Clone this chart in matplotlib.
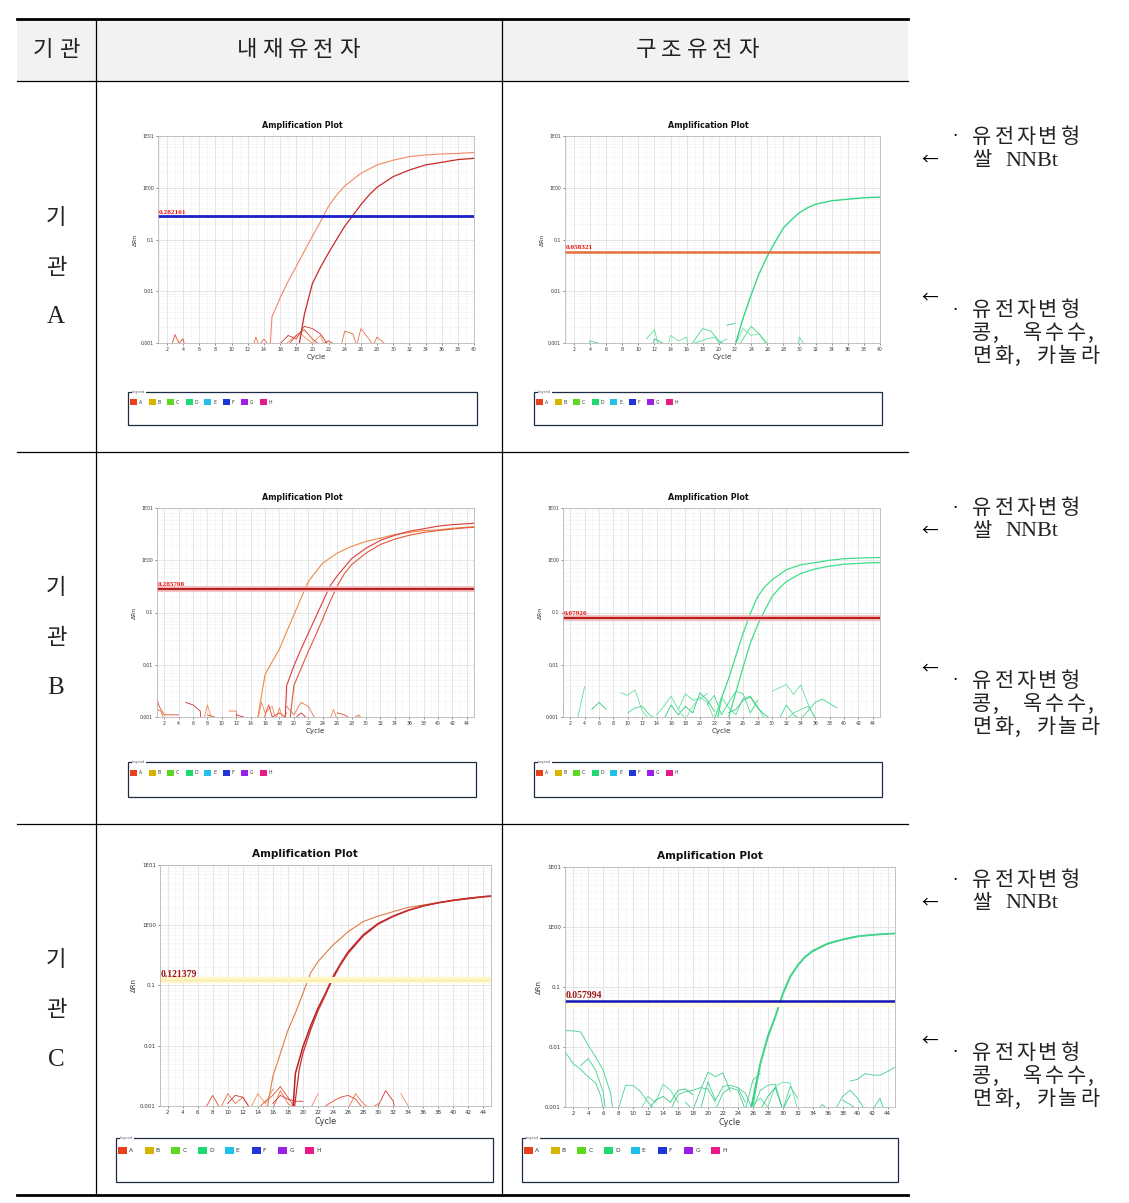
import numpy as np
import matplotlib.pyplot as plt
from matplotlib.patches import Rectangle
from matplotlib.ticker import MultipleLocator, NullFormatter, FixedLocator

W, H = 1129, 1203

# ---------------- table text ----------------
col_headers = ['기관', '내재유전자', '구조유전자']
org_names = ['A', 'B', 'C']
note_top = ['유전자변형', '쌀', 'NNBt']
note_bottom = ['유전자변형', '콩,', '옥수수,', '면화,', '카놀라']

legend_names = ['A', 'B', 'C', 'D', 'E', 'F', 'G', 'H']
legend_colors = ['#e8401c', '#d8b400', '#5ed81e', '#20d870', '#20c0e8', '#2035d8', '#9a20e8', '#e81a8a']

y_tick_vals = [0.001, 0.01, 0.1, 1, 10]
y_tick_text = ['0.001', '0.01', '0.1', '1E00', '1E01']

thresholds = [0.282161, 0.058321, 0.285708, 0.07926, 0.121379, 0.057994]
threshold_text = ['0.282161', '0.058321', '0.285708', '0.07926', '0.121379', '0.057994']

# ---------------- 기관 A ----------------
a_ref_x1 = [14.8, 15, 16, 17, 18, 19, 20, 21, 22, 23, 24, 26, 28, 30, 32, 34, 36, 38, 40]
a_ref_y1 = [0.001, 0.0032, 0.0074, 0.0155, 0.030, 0.059, 0.115, 0.22, 0.44, 0.72, 1.08, 1.9, 2.76, 3.4, 4.0, 4.3, 4.5, 4.6, 4.8]
a_ref_x2 = [18.4, 19, 20, 21, 22, 23, 24, 25, 26, 27, 28, 30, 32, 34, 36, 38, 40]
a_ref_y2 = [0.001, 0.0035, 0.0140, 0.029, 0.055, 0.10, 0.18, 0.29, 0.47, 0.72, 1.02, 1.64, 2.2, 2.76, 3.1, 3.5, 3.7]
a_ref_noise_x = [[2.5, 3, 3.5, 4, 4.3], [12.6, 13, 13.4, 14, 14.6], [15.5, 17, 18, 19, 20, 21, 22],
                 [16.5, 17.5, 18.5, 19, 20, 21, 21.5], [17, 18, 19, 20, 21, 22, 23],
                 [23.5, 24, 25, 25.5, 26, 27, 27.5, 28, 29.2]]
a_ref_noise_y = [[0.0008, 0.00145, 0.001, 0.0012, 0.0008], [0.0008, 0.0013, 0.0009, 0.0012, 0.0009],
                 [0.0008, 0.0014, 0.0012, 0.0021, 0.0019, 0.0015, 0.0009],
                 [0.0009, 0.0012, 0.0016, 0.0013, 0.0010, 0.0014, 0.0009],
                 [0.0009, 0.0014, 0.0018, 0.0012, 0.0009, 0.0011, 0.0009],
                 [0.0008, 0.0017, 0.0015, 0.0009, 0.0019, 0.0012, 0.0009, 0.0013, 0.0009]]

a_str_x = [22.1, 23, 24, 25, 26, 27, 28, 29, 30, 31, 32, 34, 36, 38, 40]
a_str_y = [0.001, 0.003, 0.0085, 0.022, 0.047, 0.091, 0.166, 0.24, 0.33, 0.41, 0.48, 0.56, 0.60, 0.64, 0.66]
a_str_noise_x = [[3.8, 4, 5], [11, 12, 12.5], [11.8, 12, 13, 13.5], [13.7, 14, 15, 16, 16.2],
                 [16.5, 18, 19, 20, 21], [17, 18.5, 19.5, 20, 21], [21, 22],
                 [22, 23, 24, 25, 26], [22.5, 24, 25, 26], [29.8, 30, 30.5], [31, 32]]
a_str_noise_y = [[0.0009, 0.0011, 0.001], [0.0012, 0.0018, 0.0009], [0.0009, 0.0012, 0.001, 0.0009],
                 [0.0009, 0.0014, 0.0011, 0.0013, 0.0009], [0.0009, 0.0019, 0.0017, 0.0011, 0.0009],
                 [0.001, 0.0012, 0.0013, 0.0010, 0.0012], [0.0022, 0.0024],
                 [0.0009, 0.0019, 0.0014, 0.0015, 0.001], [0.0009, 0.0021, 0.0015, 0.0009],
                 [0.0009, 0.0013, 0.001], [0.001, 0.001]]

# ---------------- 기관 B ----------------
b_ref_x1 = [15, 16, 17, 18, 19, 20, 21, 22, 23, 24, 26, 28, 30, 32, 34, 36, 38, 40, 42, 44, 45]
b_ref_y1 = [0.001, 0.0065, 0.0115, 0.02, 0.043, 0.09, 0.19, 0.39, 0.59, 0.88, 1.37, 1.84, 2.29, 2.65, 3.1, 3.4, 3.7, 3.8, 4.1, 4.3, 4.4]
b_ref_x2 = [18.8, 19, 20, 21, 22, 23, 24, 25, 26, 28, 30, 32, 34, 36, 38, 40, 42, 44, 45]
b_ref_y2 = [0.001, 0.004, 0.0095, 0.02, 0.04, 0.08, 0.16, 0.32, 0.5, 1.07, 1.7, 2.4, 3.0, 3.6, 4.0, 4.5, 4.8, 5.0, 5.1]
b_ref_x3 = [19.5, 20, 21, 22, 23, 24, 25, 26, 27, 28, 30, 32, 34, 36, 38, 40, 42, 44, 45]
b_ref_y3 = [0.001, 0.004, 0.0085, 0.018, 0.036, 0.075, 0.16, 0.32, 0.55, 0.82, 1.37, 2.0, 2.54, 3.0, 3.4, 3.7, 3.95, 4.2, 4.25]
b_ref_noise_x = [[1, 1.3, 2, 4], [1, 1.5, 2], [5, 6, 7, 7.1], [7.5, 8, 8.6], [8, 9], [11, 12, 12.1], [12, 13],
                 [15, 15.5, 16, 17, 17.5, 18, 18.5, 19], [15.8, 16.5, 17, 18, 19.2],
                 [19, 20, 21, 22, 23], [20, 21, 22], [25, 25.5, 26], [26, 27, 28, 29], [28, 29, 29.5]]
b_ref_noise_y = [[0.0022, 0.0016, 0.0011, 0.0011], [0.0014, 0.0013, 0.0009], [0.0019, 0.0017, 0.0013, 0.0009],
                 [0.0009, 0.0017, 0.0009], [0.0011, 0.001], [0.0013, 0.0013, 0.0009], [0.0011, 0.001],
                 [0.0009, 0.0019, 0.0012, 0.0016, 0.0009, 0.0015, 0.0009, 0.0012],
                 [0.0009, 0.0017, 0.001, 0.0012, 0.0009],
                 [0.0016, 0.0011, 0.0019, 0.0016, 0.0009], [0.0009, 0.0012, 0.0009],
                 [0.0009, 0.0014, 0.0009], [0.0012, 0.0011, 0.0009, 0.001], [0.0009, 0.0011, 0.0009]]

b_str_x1 = [22.5, 23, 24, 25, 26, 27, 28, 29, 30, 32, 34, 36, 38, 40, 42, 44, 45]
b_str_y1 = [0.001, 0.0023, 0.0055, 0.015, 0.04, 0.095, 0.2, 0.31, 0.42, 0.66, 0.82, 0.9, 1.0, 1.07, 1.1, 1.12, 1.13]
b_str_x2 = [24, 25, 26, 27, 28, 29, 30, 31, 32, 34, 36, 38, 40, 42, 44, 45]
b_str_y2 = [0.001, 0.003, 0.009, 0.026, 0.057, 0.11, 0.2, 0.29, 0.39, 0.56, 0.68, 0.77, 0.84, 0.87, 0.9, 0.9]
b_str_noise_x = [[1, 1.05], [3, 4], [5, 6, 7], [9, 10, 11, 12, 13], [10, 11, 12, 13, 14],
                 [14, 15, 16, 17, 18, 19, 20, 21], [15, 16, 17, 18, 19, 20, 21, 22],
                 [17, 18, 19, 20, 21, 22, 23], [21, 22, 23, 24, 25, 26, 27, 28],
                 [22, 23, 24, 25, 26, 27, 28, 29], [24, 25, 26, 27, 28, 29, 30],
                 [30, 32, 33, 34, 35, 36], [31, 32, 33, 34, 36, 37, 39], [32, 33, 35, 36]]
b_str_noise_y = [[0.0017, 0.0009], [0.0009, 0.0038], [0.0014, 0.0019, 0.0014],
                 [0.0029, 0.0026, 0.0033, 0.0013, 0.0009], [0.0012, 0.0015, 0.0016, 0.0011, 0.0009],
                 [0.0011, 0.0016, 0.0025, 0.0014, 0.0028, 0.0021, 0.0022, 0.0028],
                 [0.0009, 0.0017, 0.0011, 0.0016, 0.0012, 0.0029, 0.0021, 0.0013],
                 [0.0014, 0.0009, 0.0016, 0.0024, 0.0019, 0.0009, 0.0021],
                 [0.0017, 0.0026, 0.0011, 0.0019, 0.0031, 0.0028, 0.0012, 0.0021],
                 [0.0009, 0.0024, 0.0015, 0.0011, 0.0023, 0.0025, 0.0016, 0.0009],
                 [0.0012, 0.0014, 0.0021, 0.0024, 0.0015, 0.0011, 0.0009],
                 [0.0031, 0.0042, 0.0027, 0.0041, 0.0018, 0.0009],
                 [0.0009, 0.0017, 0.0011, 0.0009, 0.0019, 0.0022, 0.0015],
                 [0.0009, 0.0012, 0.0016, 0.001]]

# ---------------- 기관 C ----------------
c_ref_x1 = [15.3, 16, 17, 18, 19, 20, 21, 22, 24, 26, 28, 30, 32, 34, 36, 38, 40, 42, 44, 45]
c_ref_y1 = [0.001, 0.0031, 0.0074, 0.018, 0.035, 0.074, 0.16, 0.25, 0.47, 0.78, 1.15, 1.42, 1.68, 1.98, 2.17, 2.37, 2.56, 2.73, 2.95, 3.0]
c_ref_x2 = [18.7, 19, 20, 21, 22, 23, 24, 25, 26, 28, 30, 32, 34, 36, 38, 40, 42, 44, 45]
c_ref_y2 = [0.001, 0.0035, 0.0096, 0.021, 0.042, 0.074, 0.14, 0.23, 0.36, 0.69, 1.07, 1.42, 1.78, 2.1, 2.37, 2.6, 2.8, 2.98, 3.05]
c_ref_x3 = [18.9, 19.5, 20, 21, 22, 23, 24, 25, 26, 28, 30, 32, 34, 36, 38, 40, 42, 44, 45]
c_ref_y3 = [0.001, 0.004, 0.0075, 0.018, 0.038, 0.07, 0.13, 0.22, 0.34, 0.66, 1.04, 1.4, 1.76, 2.08, 2.35, 2.6, 2.8, 2.98, 3.05]
c_ref_noise_x = [[7, 8, 9], [9, 10, 11, 12, 13], [10, 11, 12, 13], [13, 14, 15, 16],
                 [14, 15, 16, 17, 18, 19], [15, 16, 17, 18, 19], [16, 17, 18, 19, 20], [21, 22],
                 [23, 24, 25, 26, 27, 28], [26, 27, 28, 29, 30], [29, 30, 31, 32, 32.2], [33, 34]]
c_ref_noise_y = [[0.0009, 0.0015, 0.0009], [0.0009, 0.0016, 0.0011, 0.0014, 0.0009],
                 [0.0011, 0.0015, 0.0014, 0.0009], [0.0009, 0.0016, 0.0011, 0.0019],
                 [0.0009, 0.0012, 0.0015, 0.0021, 0.0014, 0.0009], [0.0010, 0.0009, 0.0018, 0.0011, 0.0009],
                 [0.0011, 0.0015, 0.0013, 0.0012, 0.0012], [0.0009, 0.0016],
                 [0.001, 0.0012, 0.0014, 0.0015, 0.0013, 0.0009], [0.0009, 0.0016, 0.0011, 0.0009, 0.0011],
                 [0.0009, 0.001, 0.0018, 0.0012, 0.0009], [0.0016, 0.001]]

c_str_x1 = [25.8, 27, 28, 29, 30, 31, 32, 33, 34, 36, 38, 40, 42, 44, 45]
c_str_y1 = [0.001, 0.0053, 0.015, 0.032, 0.077, 0.15, 0.23, 0.32, 0.40, 0.53, 0.62, 0.70, 0.74, 0.77, 0.78]
c_str_x2 = [26, 27, 28, 29, 30, 31, 32, 33, 34, 36, 38, 40, 42, 44, 45]
c_str_y2 = [0.001, 0.005, 0.014, 0.031, 0.074, 0.145, 0.225, 0.315, 0.39, 0.52, 0.61, 0.69, 0.74, 0.77, 0.78]
c_str_noise_x = [[0.9, 2, 3, 4, 5, 6, 7, 7.3], [0.9, 2, 3, 4, 5, 5.7, 6], [3, 4, 5, 6, 6.3],
                 [39, 40, 41, 42, 43, 44, 45],
                 [8, 9, 10, 11, 12, 13], [11, 12, 13, 14, 15, 16], [12, 13, 14, 15, 16, 17, 18],
                 [15, 16, 17, 18, 19, 20, 21], [17, 18, 19, 20, 21, 22, 23], [19, 20, 21, 22, 23, 24, 25],
                 [21, 22, 23, 24, 25, 26, 27], [24, 25, 26, 27, 28, 29, 30, 31, 32],
                 [26, 27, 28, 29, 30, 31, 32], [27, 28, 29, 30, 31], [35, 35.3, 36],
                 [37, 38, 39, 40, 41], [38, 39, 40], [42, 43, 43.5]]
c_str_noise_y = [[0.0186, 0.0186, 0.0178, 0.0107, 0.0068, 0.0041, 0.0017, 0.0009],
                 [0.0083, 0.0053, 0.0042, 0.0032, 0.0025, 0.0015, 0.0009],
                 [0.0049, 0.0064, 0.0041, 0.0018, 0.0009],
                 [0.0027, 0.0029, 0.0036, 0.0034, 0.0034, 0.0039, 0.0046],
                 [0.0009, 0.0023, 0.0023, 0.0018, 0.0012, 0.0009], [0.0009, 0.0015, 0.0012, 0.0024, 0.0019, 0.0012],
                 [0.0009, 0.0013, 0.0015, 0.0012, 0.0019, 0.0020, 0.0016],
                 [0.0009, 0.0016, 0.0018, 0.0019, 0.0021, 0.0020, 0.0012],
                 [0.0012, 0.0009, 0.0019, 0.0038, 0.0032, 0.0037, 0.0018],
                 [0.0009, 0.0026, 0.0013, 0.0022, 0.0023, 0.0021, 0.0012],
                 [0.0009, 0.0017, 0.0021, 0.0019, 0.0009, 0.0028, 0.0036],
                 [0.0021, 0.0017, 0.0009, 0.0019, 0.0023, 0.0024, 0.0009, 0.0022, 0.0014],
                 [0.0011, 0.0014, 0.0010, 0.0022, 0.0026, 0.0025, 0.0009],
                 [0.0009, 0.0015, 0.0021, 0.0009, 0.0016], [0.001, 0.0011, 0.0009],
                 [0.0009, 0.0015, 0.0019, 0.0014, 0.0009], [0.0013, 0.0011, 0.0009], [0.0009, 0.0014, 0.0009]]

KR = ['Noto Sans CJK KR', 'DejaVu Sans']
SERIF_KR = ['Liberation Serif', 'Noto Sans CJK KR']
plt.rcParams['font.family'] = ['DejaVu Sans']

fig = plt.figure(figsize=(W / 100, H / 100), dpi=100)

# overlay in pixel coordinates for the table
ax0 = fig.add_axes([0, 0, 1, 1])
ax0.set_xlim(0, W)
ax0.set_ylim(H, 0)
ax0.axis('off')


def px_axes(x0, y0, x1, y1):
    return fig.add_axes([x0 / W, 1 - y1 / H, (x1 - x0) / W, (y1 - y0) / H])


def spaced(xc0, y, s, pitch, fs, color='#222222'):
    # one character at a time, like the letter-spaced text of the original
    x = xc0 - pitch
    for ch in s:
        if ch == ',':
            ax0.text(x + 0.52 * pitch, y, ch, family=KR, fontsize=fs, ha='left', va='center', color=color)
            continue
        x += pitch
        ax0.text(x, y, ch, family=KR, fontsize=fs, ha='center', va='center', color=color)


# table frame
ax0.add_patch(Rectangle((17, 19), 891, 62, fc='#f2f2f2', ec='none'))
ax0.plot([17, 908], [19, 19], color='black', lw=2.0)
ax0.plot([17, 908], [1195, 1195], color='black', lw=2.0)
for yy in [81, 452, 824]:
    ax0.plot([17, 908], [yy, yy], color='black', lw=0.9)
for xx in [96, 502]:
    ax0.plot([xx, xx], [19, 1195], color='black', lw=0.9)

for xc, t, pitch in zip([56, 298, 697], col_headers, [26, 25.5, 25.5]):
    spaced(xc - (len(t) - 1) * pitch / 2, 50, t, pitch, 16)

row_offsets = [0, 371, 743]
for r, name in enumerate(org_names):
    mid = 267 + row_offsets[r]
    ax0.text(56, mid - 50, '기', family=KR, fontsize=16, ha='center', va='center', color='#222222')
    ax0.text(56, mid, '관', family=KR, fontsize=16, ha='center', va='center', color='#222222')
    ax0.text(56, mid + 50, name, family=SERIF_KR, fontsize=18, ha='center', va='center', color='#222222')

    off = row_offsets[r]
    # notes on the right
    ax0.text(930, 160 + off, '←', family=KR, fontsize=12, ha='center', va='center')
    ax0.text(955, 137 + off, '·', family=KR, fontsize=12, ha='center', va='center')
    spaced(982, 137 + off, note_top[0], 22, 15)
    spaced(982, 160 + off, note_top[1], 22, 15)
    ax0.text(1005, 161 + off, note_top[2], family='Liberation Serif', fontsize=16, va='center', color='#222222')

    ax0.text(930, 298 + off, '←', family=KR, fontsize=12, ha='center', va='center')
    ax0.text(955, 310 + off, '·', family=KR, fontsize=12, ha='center', va='center')
    spaced(982, 310 + off, note_bottom[0], 22, 15)
    spaced(982, 333 + off, note_bottom[1], 22, 15)
    spaced(1033, 333 + off, note_bottom[2], 22, 15)
    spaced(982, 356 + off, note_bottom[3], 22, 15)
    spaced(1046, 356 + off, note_bottom[4], 22, 15)


def draw_legend(x0, y0, x1, y1, sq_x, sq_y, step, sw, sh, fs):
    ax0.add_patch(Rectangle((x0, y0), x1 - x0, y1 - y0, fill=False, ec='#1c2c44', lw=0.9))
    ax0.text(x0 + 4, y0, 'Legend', fontsize=2.6, va='center', color='#666666',
             bbox=dict(fc='white', ec='none', pad=0.3))
    for i, (n, c) in enumerate(zip(legend_names, legend_colors)):
        x = sq_x + i * step
        ax0.add_patch(Rectangle((x, sq_y - sh / 2), sw, sh, fc=c, ec='none'))
        ax0.text(x + sw + 2, sq_y, n, fontsize=fs, va='center', color='#333333')


def amp_plot(rect, xlim, title_xy, title_fs, tick_fs, big, curves, noise_x, noise_y, noise_colors,
             thr, thr_label, thr_kind):
    ax = px_axes(*rect)
    ax.set_yscale('log')
    ax.set_ylim(0.001, 10)
    ax.set_xlim(*xlim)
    ax.set_xticks(range(2, int(xlim[1]) + 1, 2))
    ax.xaxis.set_minor_locator(MultipleLocator(1))
    ax.yaxis.set_major_locator(FixedLocator(y_tick_vals))
    ax.set_yticklabels(y_tick_text)
    ax.yaxis.set_minor_formatter(NullFormatter())
    ax.grid(which='major', color='#dadada', lw=0.5)
    ax.grid(which='minor', color='#ececec', lw=0.4, ls=(0, (2, 1)))
    ax.set_axisbelow(True)
    ax.tick_params(which='major', length=1.5, width=0.4, pad=1.5, labelsize=tick_fs, colors='#333333')
    ax.tick_params(which='minor', length=0)
    for s in ax.spines.values():
        s.set_color('#b8b8b8')
        s.set_linewidth(0.6)
    ax.set_xlabel('Cycle', fontsize=tick_fs + 1.8, labelpad=1.5, color='#333333')
    ax.set_ylabel('ΔRn', fontsize=tick_fs + 1, labelpad=2, color='#333333')

    for i, (nx, ny) in enumerate(zip(noise_x, noise_y)):
        ax.plot(nx, ny, color=noise_colors[i % len(noise_colors)], lw=0.6)
    for cx, cy, col, lw in curves:
        ax.plot(cx, cy, color=col, lw=lw)

    if thr_kind == 'blue':
        ax.axhline(thr, color='#1a22c8', lw=2.0)
    elif thr_kind == 'orange':
        ax.axhline(thr, color='#e4703c', lw=1.8)
    elif thr_kind == 'darkred':
        ax.axhline(thr, color='#f2b4b4', lw=4.0)
        ax.axhline(thr, color='#b41c1c', lw=1.4)
    elif thr_kind == 'yellow':
        ax.axhline(thr, color='#fff6c4', lw=4.5)
        ax.axhline(thr, color='#f6ecb0', lw=0.8)
    elif thr_kind == 'navy':
        ax.axhline(thr * 0.86, color='#fffbe0', lw=3.0)
        ax.axhline(thr, color='#1616b8', lw=1.8)

    lab_col = '#a01212' if big else '#ee1111'
    ax.text(xlim[0] + 0.1, thr * 1.06, thr_label, color=lab_col, fontsize=7 if big else 5.2,
            family='Liberation Serif', fontweight='bold', va='bottom', ha='left')
    ax0.text(title_xy[0], title_xy[1], 'Amplification Plot', fontsize=title_fs, fontweight='bold',
             ha='center', va='center', color='#111111')
    return ax


red_noise = ['#e04a2a', '#e8704a', '#d23030', '#f08858']
green_noise = ['#3ed88a', '#58e098', '#2ec87a', '#6ce2a2']
c_green_noise = ['#3ed08c', '#3ed08c', '#3ed08c', '#3ed08c', '#48d494', '#5edc9e', '#30c880']

amp_plot((158, 136, 474, 343), (0.9, 40), (302, 126), 5.8, 3.3, False,
         [(a_ref_x1, a_ref_y1, '#f08a66', 0.8), (a_ref_x2, a_ref_y2, '#c82a2a', 0.9)],
         a_ref_noise_x, a_ref_noise_y, red_noise, thresholds[0], threshold_text[0], 'blue')
amp_plot((565, 136, 880, 343), (0.9, 40), (708, 126), 5.8, 3.3, False,
         [(a_str_x, a_str_y, '#34d884', 1.0)],
         a_str_noise_x, a_str_noise_y, green_noise, thresholds[1], threshold_text[1], 'orange')
amp_plot((157, 508, 474, 717), (1, 45), (302, 498), 5.8, 3.3, False,
         [(b_ref_x1, b_ref_y1, '#f08a48', 0.8), (b_ref_x2, b_ref_y2, '#e03a3a', 0.8),
          (b_ref_x3, b_ref_y3, '#e2583a', 0.8)],
         b_ref_noise_x, b_ref_noise_y, red_noise, thresholds[2], threshold_text[2], 'darkred')
amp_plot((563, 508, 880, 717), (1, 45), (708, 498), 5.8, 3.3, False,
         [(b_str_x1, b_str_y1, '#3ede88', 0.9), (b_str_x2, b_str_y2, '#3ede88', 0.9)],
         b_str_noise_x, b_str_noise_y, green_noise, thresholds[3], threshold_text[3], 'darkred')
amp_plot((160, 865, 491, 1106), (1, 45), (305, 854), 7.6, 4.0, True,
         [(c_ref_x1, c_ref_y1, '#e07c44', 0.8), (c_ref_x2, c_ref_y2, '#b82222', 1.1),
          (c_ref_x3, c_ref_y3, '#c83030', 0.9)],
         c_ref_noise_x, c_ref_noise_y, red_noise, thresholds[4], threshold_text[4], 'yellow')
amp_plot((565, 867, 895, 1107), (0.9, 45), (710, 856), 7.6, 4.0, True,
         [(c_str_x1, c_str_y1, '#38cc84', 1.3), (c_str_x2, c_str_y2, '#4ad890', 0.8)],
         c_str_noise_x, c_str_noise_y, c_green_noise, thresholds[5], threshold_text[5], 'navy')

draw_legend(128, 392, 477, 425, 130, 402, 18.5, 7, 6, 3.3)
draw_legend(534, 392, 882, 425, 536, 402, 18.5, 7, 6, 3.3)
draw_legend(128, 762, 476, 797, 130, 773, 18.5, 7, 6, 3.3)
draw_legend(534, 762, 882, 797, 536, 773, 18.5, 7, 6, 3.3)
draw_legend(116, 1138, 493, 1182, 118, 1150, 26.7, 9, 7, 4.3)
draw_legend(522, 1138, 898, 1182, 524, 1150, 26.7, 9, 7, 4.3)

fig.savefig('out.png', dpi=100)
